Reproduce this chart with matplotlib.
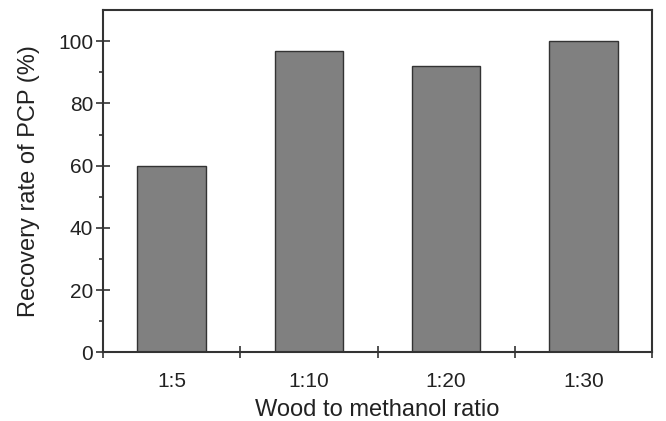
import numpy as np
import matplotlib.pyplot as plt

plt.rcParams['font.family'] = ['Liberation Sans', 'DejaVu Sans']

# Data
ratios = ["1:5", "1:10", "1:20", "1:30"]
recovery = [60, 97, 92, 100]

fig = plt.figure(figsize=(6.66, 4.21), dpi=100)
ax = fig.add_axes([0.1547, 0.1632, 0.8243, 0.8128])

x = np.arange(len(ratios))
ax.bar(x, recovery, width=0.5, color="#808080", edgecolor="#333333", linewidth=1.0)

ax.set_xlim(-0.5, len(ratios) - 0.5)
ax.set_ylim(0, 110)

# category labels at bar centres, tick marks at the boundaries
ax.set_xticks(x)
ax.set_xticklabels(ratios, fontsize=15, color="#222222")
ax.set_xticks(np.arange(-0.5, len(ratios)), minor=True)
ax.tick_params(axis="x", which="major", length=0, pad=14)
ax.tick_params(axis="x", which="minor", direction="inout", length=8, width=1.2, color="#333333")

ax.set_yticks(np.arange(0, 101, 20))
ax.set_yticks(np.arange(10, 101, 20), minor=True)
ax.tick_params(axis="y", which="major", direction="inout", length=10, width=1.2,
               color="#333333", labelsize=15, labelcolor="#222222", pad=2)
ax.tick_params(axis="y", which="minor", direction="out", length=3, width=1.2, color="#333333")

for s in ax.spines.values():
    s.set_linewidth(1.5)
    s.set_color("#333333")

ax.set_xlabel("Wood to methanol ratio", fontsize=17, color="#222222", labelpad=6)
ax.set_ylabel("Recovery rate of PCP (%)", fontsize=17, color="#222222", labelpad=13)

plt.savefig("out.png", dpi=100)
